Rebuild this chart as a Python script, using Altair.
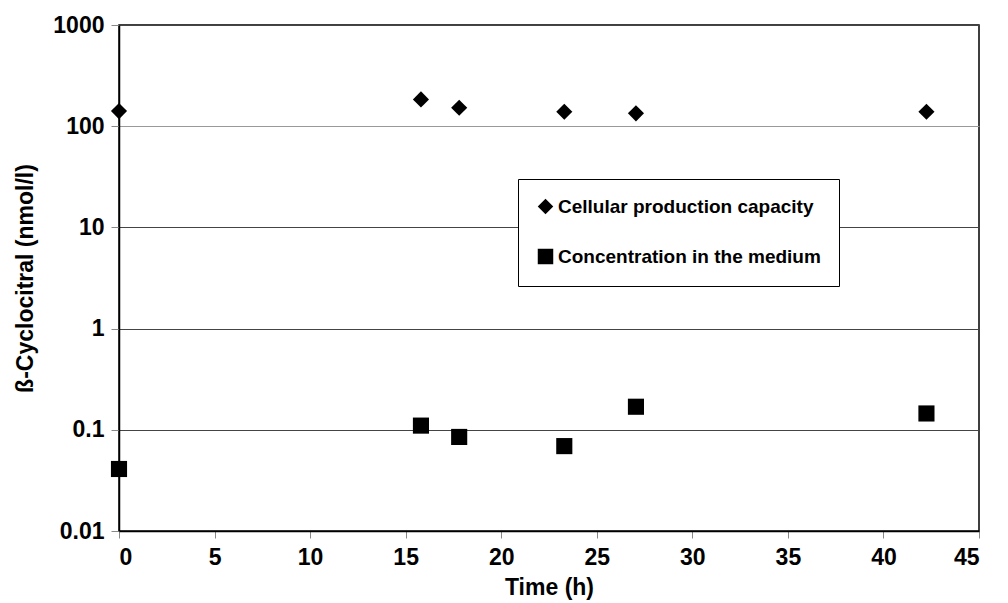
import altair as alt
import pandas as pd

times = [0, 15.8, 17.8, 23.3, 27.05, 42.25]
cellular = [141, 184, 152, 139, 134, 139]
medium = [0.041, 0.110, 0.085, 0.069, 0.169, 0.145]
series_names = ["Cellular production capacity", "Concentration in the medium"]

rows = []
for t, v in zip(times, cellular):
    rows.append({"time": t, "value": v, "series": series_names[0]})
for t, v in zip(times, medium):
    rows.append({"time": t, "value": v, "series": series_names[1]})
df = pd.DataFrame(rows)

FONT = "Liberation Sans"

chart = alt.Chart(df).mark_point(filled=True, opacity=1, color="black", size=260).encode(
    x=alt.X("time:Q", title="Time (h)",
            scale=alt.Scale(domain=[0, 45], nice=False, zero=False),
            axis=alt.Axis(values=list(range(0, 50, 5)), grid=False, tickColor="#888",
                          tickSize=7, labelPadding=8, labelFontSize=23, labelFont=FONT,
                          labelFontWeight="bold", titleFontSize=23, titleFont=FONT,
                          titleFontWeight="bold", titlePadding=7, domainColor="black",
                          domainWidth=1.5, labelColor="black", titleColor="black")),
    y=alt.Y("value:Q", title="ß-Cyclocitral (nmol/l)",
            scale=alt.Scale(type="log", domain=[0.01, 1000], nice=False),
            axis=alt.Axis(values=[0.01, 0.1, 1, 10, 100, 1000], format="~g",
                          grid=True,
                          gridColor=alt.ConditionalAxisColor(condition={"test": "datum.value == 100", "value": "#999"}, value="#444"),
                          gridWidth=1.2,
                          tickColor="#888", tickSize=8, labelPadding=7, labelFontSize=23,
                          labelFont=FONT, labelFontWeight="bold", titleFontSize=23,
                          titleFont=FONT, titleFontWeight="bold", titlePadding=15,
                          domainColor="black", domainWidth=1.5, labelColor="black",
                          titleColor="black")),
    shape=alt.Shape("series:N",
                    scale=alt.Scale(domain=series_names, range=["diamond", "square"]),
                    legend=alt.Legend(title=None, orient="none", legendX=399, legendY=154,
                                      strokeColor="black", padding=18, rowPadding=27,
                                      labelFontSize=19, labelFont=FONT, labelFontWeight="bold",
                                      labelColor="black", symbolSize=240, symbolFillColor="black",
                                      symbolStrokeColor="black", symbolOffset=0, labelOffset=3,
                                      fillColor="white", labelLimit=400)),
).properties(
    width=860, height=506,
    autosize=alt.AutoSizeParams(type="none"),
    padding={"left": 111, "top": 17, "right": 20, "bottom": 70},
).configure_view(
    stroke="black", strokeWidth=1.5
)

chart.save("out.html", embed_options={"renderer": "svg", "actions": False})
